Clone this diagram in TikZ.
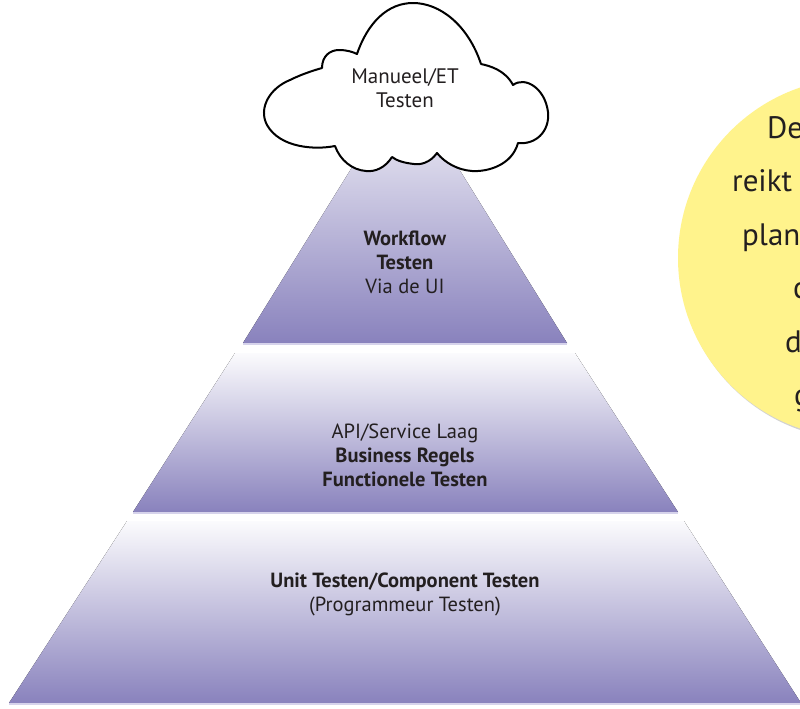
\documentclass[tikz,border=0pt]{standalone}
\usepackage{fontspec}
\setmainfont{PT Sans}
\usetikzlibrary{shadows}
\definecolor{ptop}{RGB}{251,251,253}
\definecolor{pbot}{RGB}{137,130,189}
\definecolor{pline}{RGB}{214,211,235}
\definecolor{notefill}{RGB}{255,243,140}
\definecolor{ink}{RGB}{35,31,32}
\begin{document}
\begin{tikzpicture}[x=1pt,y=-1pt,
  tier/.style={top color=ptop,bottom color=pbot},
  tierline/.style={draw=pline,line width=1.2pt},
  cloudline/.style={draw=black,fill=white,line width=2pt,line join=round},
  lbl/.style={font=\fontsize{20.5}{24}\selectfont,text=ink,align=center,inner sep=0pt},
  notetxt/.style={font=\fontsize{31}{36}\selectfont,text=ink,anchor=base west,inner sep=0pt},
  bubble/.style={circle,fill=notefill,minimum size=360pt,inner sep=0pt,
    drop shadow={shadow xshift=1.5pt,shadow yshift=-2pt,opacity=0.35}}]
\useasboundingbox (0,0) rectangle (800,709);
\fill[white] (0,0) rectangle (800,709);
% yellow note
\node[bubble] (note) at (858,258) {};
\node[notetxt] (n1) at (767,138) {De};
\node[notetxt] (n2) at (732,191) {reikt};
\node[notetxt] (n3) at (742,245) {plan};
\node[notetxt] (n4) at (793,298) {c};
\node[notetxt] (n5) at (785,352) {d};
\node[notetxt] (n6) at (794,405) {g};
% pyramid tiers
\fill[tier] (405,82) -- (567,343) -- (243,343) -- cycle;
\draw[tierline] (243,344) -- (567,344);
\fill[tier] (235,353) -- (575,353) -- (678,512) -- (133,512) -- cycle;
\draw[tierline] (133,513) -- (678,513);
\fill[tier] (127,521) -- (684,521) -- (801,703) -- (9,703) -- cycle;
\draw[tierline] (9,704) -- (801,704);
% cloud
\draw[cloudline] (322,68)
  .. controls (322,56) and (330,50) .. (339,50)
  .. controls (347,50) and (353,52) .. (357,54)
  .. controls (368,22) and (388,3) .. (413,3)
  .. controls (440,3) and (468,25) .. (481,64)
  .. controls (490,66) and (505,70) .. (513,85)
  .. controls (525,76) and (545,88) .. (548,112)
  .. controls (550,132) and (535,145) .. (518,143)
  .. controls (512,165) and (488,172) .. (472,171)
  .. controls (458,170) and (445,163) .. (437,153)
  .. controls (430,163) and (420,165) .. (414,164)
  .. controls (405,163) and (397,161) .. (392,157)
  .. controls (385,168) and (375,172) .. (366,171)
  .. controls (352,170) and (340,160) .. (335,146)
  .. controls (315,150) and (280,148) .. (267,125)
  .. controls (258,108) and (270,88) .. (290,80)
  .. controls (302,74) and (315,70) .. (322,68) -- cycle;
% labels
\node[lbl,font=\fontsize{21}{24.5}\selectfont] (cloudtxt) at (405,88) {Manueel/ET\\Testen};
\node[lbl] (t1) at (405,262) {\textbf{Workflow}\\\textbf{Testen}\\Via de UI};
\node[lbl] (t2) at (405,455) {API/Service Laag\\\textbf{Business Regels}\\\textbf{Functionele Testen}};
\node[lbl] (t3) at (405,594) {\textbf{Unit Testen/Component Testen}\\(Programmeur Testen)};
\end{tikzpicture}
\end{document}
